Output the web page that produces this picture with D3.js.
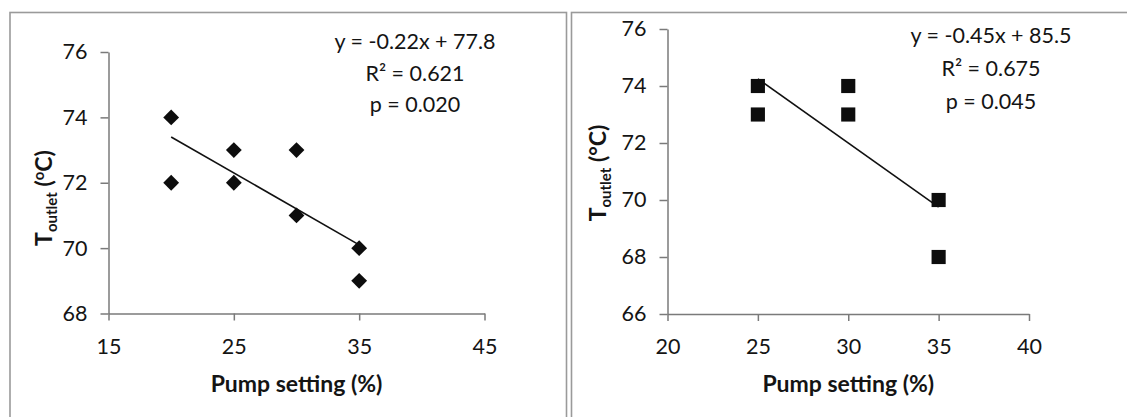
<!DOCTYPE html>
<html>
<head>
<meta charset="utf-8">
<script src="https://cdn.jsdelivr.net/npm/d3@7"></script>
<style>
  html, body { margin: 0; padding: 0; background: #ffffff; }
  svg { display: block; }
  text { font-family: Lato, "Open Sans", sans-serif; fill: #141414; }
</style>
</head>
<body>
<svg id="chart" width="1127" height="417"></svg>
<script>
// Panel A: pump setting vs outlet temperature (first run)
const pumpA = [20, 20, 25, 25, 30, 30, 35, 35];
const toutA = [74, 72, 73, 72, 73, 71, 70, 69];
const fitA = { slope: -0.22, intercept: 77.8 };
const statsA = ["y = -0.22x + 77.8", "R² = 0.621", "p = 0.020"];
const xTicksA = [15, 25, 35, 45];
const yTicksA = [68, 70, 72, 74, 76];

// Panel B: pump setting vs outlet temperature (second run)
const pumpB = [25, 25, 30, 30, 35, 35];
const toutB = [74, 73, 74, 73, 70, 68];
const fitB = { slope: -0.45, intercept: 85.5 };
const statsB = ["y = -0.45x + 85.5", "R² = 0.675", "p = 0.045"];
const xTicksB = [20, 25, 30, 35, 40];
const yTicksB = [66, 68, 70, 72, 74, 76];

const xTitle = "Pump setting (%)";

const svg = d3.select("#chart");

// panel frames
svg.append("rect").attr("x", 10).attr("y", 12.5).attr("width", 556.5).attr("height", 420)
  .attr("fill", "none").attr("stroke", "#9a9a9a").attr("stroke-width", 1.6);
svg.append("rect").attr("x", 571.5).attr("y", 12.5).attr("width", 600).attr("height", 420)
  .attr("fill", "none").attr("stroke", "#9a9a9a").attr("stroke-width", 1.6);

function panel(cfg) {
  const g = svg.append("g");
  const x = d3.scaleLinear().domain(cfg.xDomain).range(cfg.xRange);
  const y = d3.scaleLinear().domain(cfg.yDomain).range(cfg.yRange);

  const yAxis = d3.axisLeft(y).tickValues(cfg.yTicks).tickSize(8).tickSizeOuter(0).tickPadding(13)
    .tickFormat(d3.format("d"));
  const xAxis = d3.axisBottom(x).tickValues(cfg.xTicks).tickSize(7).tickSizeOuter(0).tickPadding(18)
    .tickFormat(d3.format("d"));

  const ga = g.append("g").attr("transform", `translate(${cfg.xRange[0]},0)`).call(yAxis);
  const gb = g.append("g").attr("transform", `translate(0,${cfg.yRange[0]})`).call(xAxis);
  [ga, gb].forEach(a => {
    a.select(".domain").attr("stroke", "#7a7a7a").attr("stroke-width", 1.5);
    a.selectAll(".tick line").attr("stroke", "#7a7a7a").attr("stroke-width", 1.5);
    a.selectAll(".tick text").attr("font-size", 21.5).attr("font-family", "Lato, sans-serif").attr("fill", "#141414");
  });

  // fitted trend line over the sampled range
  const xs = d3.extent(cfg.px);
  g.append("line")
    .attr("x1", x(xs[0])).attr("y1", y(cfg.fit.slope * xs[0] + cfg.fit.intercept))
    .attr("x2", x(xs[1])).attr("y2", y(cfg.fit.slope * xs[1] + cfg.fit.intercept))
    .attr("stroke", "#111").attr("stroke-width", 1.6);

  // markers
  const sym = d3.symbol().type(d3.symbolSquare).size(cfg.markerArea);
  g.selectAll("path.pt").data(cfg.px.map((v, i) => [v, cfg.py[i]])).join("path")
    .attr("class", "pt")
    .attr("d", sym)
    .attr("transform", d => `translate(${x(d[0])},${y(d[1])}) rotate(${cfg.markerRotate})`)
    .attr("fill", "#0d0d0d");

  // regression statistics
  const st = g.append("text").attr("text-anchor", "middle").attr("font-size", 21.5);
  cfg.stats.forEach((s, i) => {
    st.append("tspan").attr("x", cfg.statsX).attr("y", cfg.statsY + i * cfg.statsGap).text(s);
  });

  // axis titles
  g.append("text").attr("x", (cfg.xRange[0] + cfg.xRange[1]) / 2).attr("y", cfg.xTitleY)
    .attr("text-anchor", "middle").attr("font-size", 23).attr("font-weight", "bold").text(xTitle);

  const yt = g.append("text")
    .attr("transform", `translate(${cfg.yTitleX},${cfg.yTitleY}) rotate(-90)`)
    .attr("text-anchor", "middle").attr("font-size", 23).attr("font-weight", "bold");
  yt.append("tspan").text("T");
  yt.append("tspan").attr("font-size", 15).attr("dy", 5).text("outlet");
  yt.append("tspan").attr("dy", -5).text(" (");
  if (cfg.degreeSup) {
    yt.append("tspan").attr("font-size", 15).attr("dy", -8).text("o");
    yt.append("tspan").attr("dy", 8).text("C)");
  } else {
    yt.append("tspan").text("°C)");
  }
}

panel({
  px: pumpA, py: toutA, fit: fitA, stats: statsA, xTicks: xTicksA, yTicks: yTicksA,
  xDomain: [15, 45], xRange: [108.5, 484.5], yDomain: [68, 76], yRange: [313.5, 52],
  markerArea: 125, markerRotate: 45,
  statsX: 415, statsY: 49, statsGap: 31.5,
  xTitleY: 392, yTitleX: 52, yTitleY: 198, degreeSup: true
});

panel({
  px: pumpB, py: toutB, fit: fitB, stats: statsB, xTicks: xTicksB, yTicks: yTicksB,
  xDomain: [20, 40], xRange: [667.5, 1029], yDomain: [66, 76], yRange: [314, 29],
  markerArea: 200, markerRotate: 0,
  statsX: 991, statsY: 43, statsGap: 33,
  xTitleY: 392, yTitleX: 606, yTitleY: 173, degreeSup: false
});
</script>
</body>
</html>
